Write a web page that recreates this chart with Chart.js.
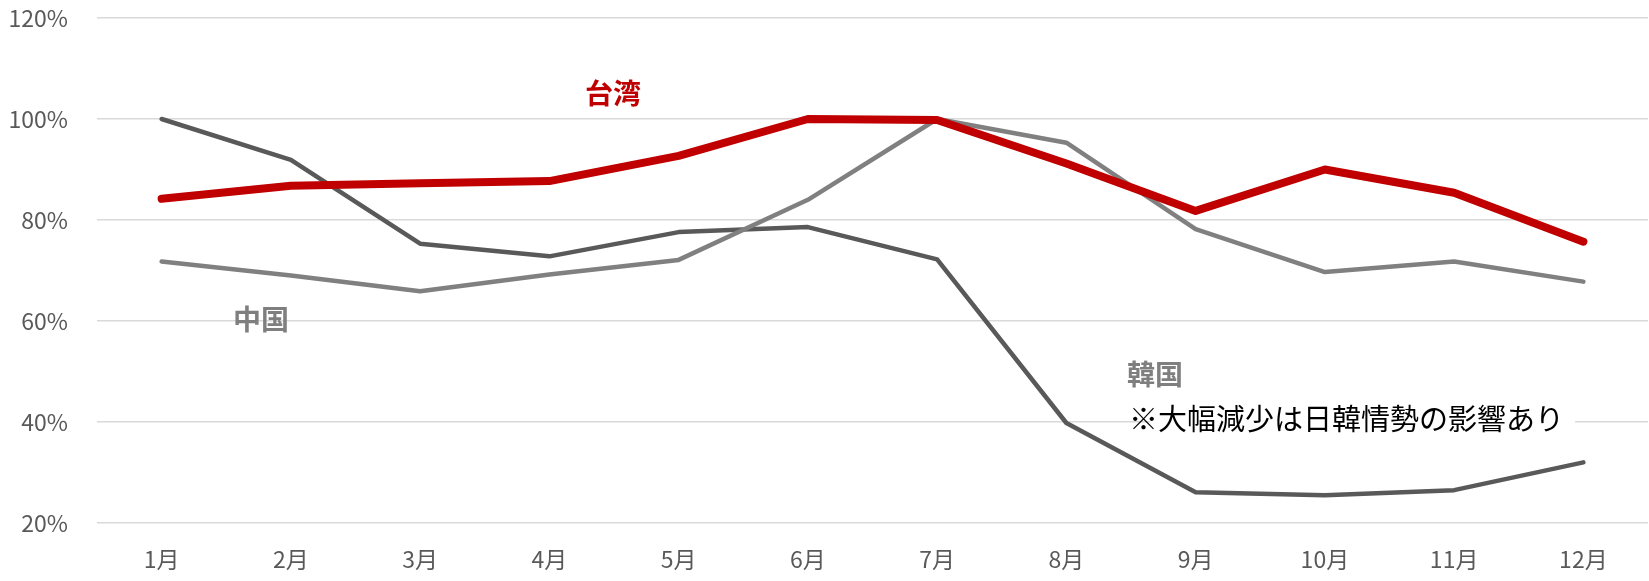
<!DOCTYPE html>
<html lang="ja">
<head>
  <meta charset="UTF-8">
  <title>月別推移</title>
  <script src="https://cdn.jsdelivr.net/npm/chart.js"></script>
  <style>
    * { margin: 0; padding: 0; box-sizing: border-box; }
    body { background: #fff; width: 1649px; height: 581px; overflow: hidden; }
    #wrap { width: 1649px; height: 581px; }
  </style>
</head>
<body>
  <div id="wrap">
    <canvas id="chart" width="1649" height="581"></canvas>
  </div>

  <script>
    const months = ['1月', '2月', '3月', '4月', '5月', '6月', '7月', '8月', '9月', '10月', '11月', '12月'];
    const taiwan = [84.2, 86.8, 87.3, 87.7, 92.7, 100, 99.8, 91.2, 81.8, 90.0, 85.4, 75.7];
    const china = [71.8, 69.0, 65.9, 69.2, 72.1, 84.0, 100, 95.3, 78.2, 69.7, 71.8, 67.8];
    const korea = [100, 91.9, 75.3, 72.8, 77.6, 78.6, 72.2, 39.8, 26.1, 25.5, 26.5, 32.0];
    const yMin = 20, yMax = 120, yStep = 20;

    const FONT = '"Noto Sans CJK JP", "Noto Sans", sans-serif';

    // text labels placed over the plot
    const labelPlugin = {
      id: 'labels',
      afterDatasetsDraw(chart) {
        const ctx = chart.ctx;
        ctx.save();
        ctx.textBaseline = 'middle';
        ctx.textAlign = 'left';

        ctx.font = 'bold 28px ' + FONT;
        ctx.fillStyle = '#C00000';
        ctx.fillText('台湾', 585, 93);

        ctx.fillStyle = '#7F7F7F';
        ctx.fillText('中国', 233, 319);
        ctx.fillText('韓国', 1127, 374);

        ctx.fillStyle = '#ffffff';
        ctx.fillRect(1150, 405, 425, 28);
        ctx.font = '29px ' + FONT;
        ctx.fillStyle = '#000000';
        ctx.fillText('※大幅減少は日韓情勢の影響あり', 1129, 419);
        ctx.restore();
      }
    };

    const ctx = document.getElementById('chart').getContext('2d');
    new Chart(ctx, {
      type: 'line',
      data: {
        labels: months,
        datasets: [
          {
            label: '台湾',
            data: taiwan,
            borderColor: '#C00000',
            borderWidth: 8,
            borderCapStyle: 'round',
            borderJoinStyle: 'round',
            pointRadius: 0,
            tension: 0
          },
          {
            label: '中国',
            data: china,
            borderColor: '#808080',
            borderWidth: 4.5,
            borderCapStyle: 'round',
            borderJoinStyle: 'round',
            pointRadius: 0,
            tension: 0
          },
          {
            label: '韓国',
            data: korea,
            borderColor: '#595959',
            borderWidth: 4.5,
            borderCapStyle: 'round',
            borderJoinStyle: 'round',
            pointRadius: 0,
            tension: 0
          }
        ]
      },
      options: {
        responsive: false,
        animation: false,
        layout: { padding: { top: 18, right: 1, left: 0, bottom: 0 } },
        plugins: {
          legend: { display: false },
          tooltip: { enabled: false }
        },
        scales: {
          x: {
            offset: true,
            grid: { display: false, drawTicks: false },
            border: { display: false },
            ticks: {
              color: '#595959',
              font: { family: FONT, size: 23 },
              padding: 22,
              maxRotation: 0
            },
            afterFit(scale) {
              scale.height = 58;
              scale.paddingLeft = 0;
              scale.paddingRight = 0;
            }
          },
          y: {
            min: yMin,
            max: yMax,
            grid: { color: '#D9D9D9', lineWidth: 1.5, drawTicks: false },
            border: { display: false },
            ticks: {
              stepSize: yStep,
              color: '#595959',
              font: { family: FONT, size: 23 },
              padding: 29,
              callback: v => v + '%'
            },
            afterFit(scale) {
              scale.width = 97;
              scale.paddingTop = 0;
              scale.paddingBottom = 0;
            }
          }
        }
      },
      plugins: [labelPlugin]
    });
  </script>
</body>
</html>
